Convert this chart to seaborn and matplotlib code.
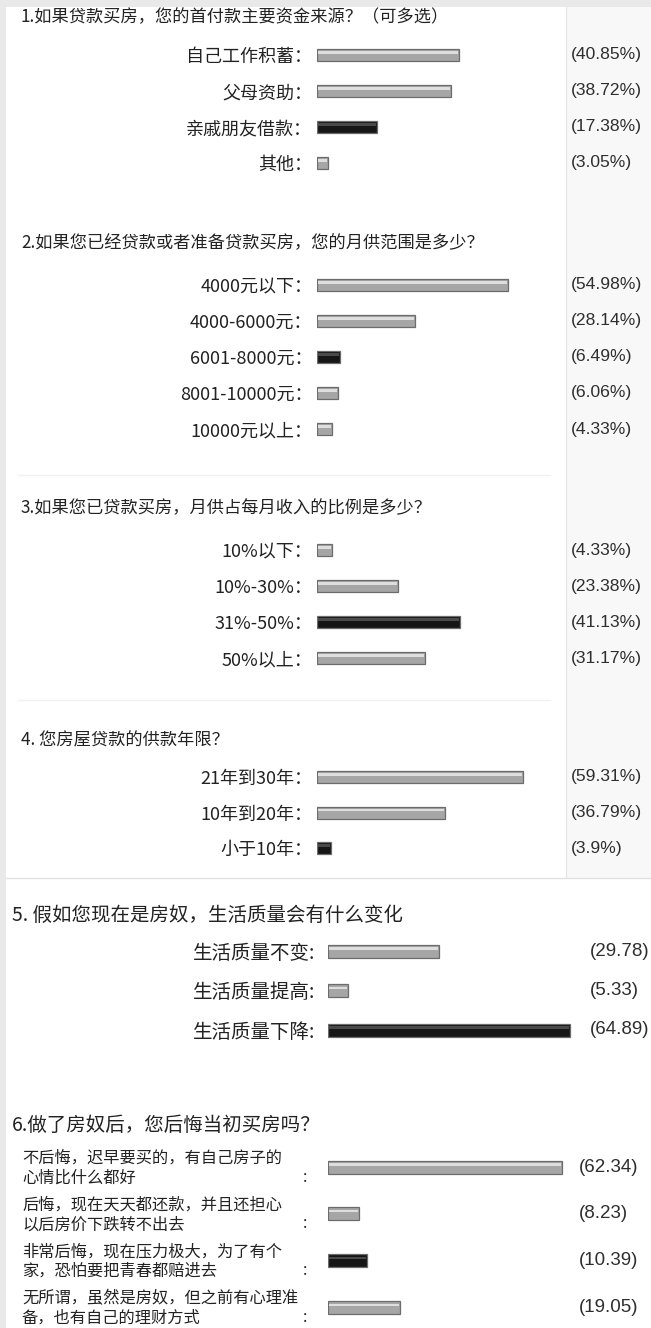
import numpy as np
import pandas as pd
import seaborn as sns
import matplotlib.pyplot as plt
import matplotlib.transforms as mtrans
from matplotlib.patches import Rectangle
from matplotlib.lines import Line2D

sns.set_theme(style="white")
plt.rcParams['font.family'] = ['Noto Sans CJK SC', 'DejaVu Sans']

# ---- data ----
q1_title = '1.如果贷款买房，您的首付款主要资金来源？（可多选）'
q1_labels = ['自己工作积蓄：', '父母资助：', '亲戚朋友借款：', '其他：']
q1_values = [40.85, 38.72, 17.38, 3.05]

q2_title = '2.如果您已经贷款或者准备贷款买房，您的月供范围是多少？'
q2_labels = ['4000元以下：', '4000-6000元：', '6001-8000元：', '8001-10000元：', '10000元以上：']
q2_values = [54.98, 28.14, 6.49, 6.06, 4.33]

q3_title = '3.如果您已贷款买房，月供占每月收入的比例是多少？'
q3_labels = ['10%以下：', '10%-30%：', '31%-50%：', '50%以上：']
q3_values = [4.33, 23.38, 41.13, 31.17]

q4_title = '4. 您房屋贷款的供款年限？'
q4_labels = ['21年到30年：', '10年到20年：', '小于10年：']
q4_values = [59.31, 36.79, 3.9]

q5_title = '5. 假如您现在是房奴，生活质量会有什么变化'
q5_labels = ['生活质量不变:', '生活质量提高:', '生活质量下降:']
q5_values = [29.78, 5.33, 64.89]

q6_title = '6.做了房奴后，您后悔当初买房吗？'
q6_labels = ['不后悔，迟早要买的，有自己房子的\n心情比什么都好',
             '后悔，现在天天都还款，并且还担心\n以后房价下跌转不出去',
             '非常后悔，现在压力极大，为了有个\n家，恐怕要把青春都赔进去',
             '无所谓，虽然是房奴，但之前有心理准\n备，也有自己的理财方式']
q6_values = [62.34, 8.23, 10.39, 19.05]

# index of the black bar in each question
dark_bar = [2, 2, 2, 2, 2, 2]

# ---- layout (pixels) ----
W, H = 651, 1328
fig = plt.figure(figsize=(W / 100, H / 100), dpi=100)
fig.patch.set_facecolor('#e9e9e9')

# paper panels
fig.patches.append(Rectangle((6 / W, 0), 1, 1 - 7 / H, transform=fig.transFigure,
                             facecolor='white', edgecolor='none', zorder=-3))
fig.patches.append(Rectangle((566 / W, 1 - 878 / H), 1, (878 - 7) / H, transform=fig.transFigure,
                             facecolor='#f8f8f8', edgecolor='none', zorder=-2))
fig.lines.append(Line2D([566 / W, 566 / W], [1 - 878 / H, 1 - 7 / H], transform=fig.transFigure,
                        color='#e4e4e4', lw=0.8, zorder=-1))
fig.lines.append(Line2D([6 / W, 1], [1 - 878 / H, 1 - 878 / H], transform=fig.transFigure,
                        color='#e2e2e2', lw=1.0, zorder=-1))
for yy in [475, 700]:
    fig.lines.append(Line2D([18 / W, 550 / W], [1 - yy / H, 1 - yy / H], transform=fig.transFigure,
                            color='#f0f0f0', lw=1.0, zorder=-1))


def px_axes(x0, ytop, w, h):
    return fig.add_axes([x0 / W, 1 - (ytop + h) / H, w / W, h / H])


def draw_q(title, labels, values, dark, cfg, pct_suffix, side_labels=True):
    n = len(values)
    step = cfg['step']
    fig.text(cfg['title_x'] / W, 1 - cfg['title_y'] / H, title, fontsize=cfg['title_fs'],
             va='center', ha='left', color='#222222')
    ax = px_axes(cfg['bar_x'], cfg['row0'] - step / 2, cfg['scale'] * cfg['xmax'], step * n)
    df = pd.DataFrame({'label': labels, 'value': values})
    pal = ['#161616' if i == dark else '#a6a6a6' for i in range(n)]
    sns.barplot(data=df, x='value', y='label', hue='label', palette=pal, legend=False,
                saturation=1, width=cfg['bar_h'] / step, edgecolor='#6c6c6c',
                linewidth=0.9, ax=ax)
    # light stripe for the glossy look
    stripe = ['#4a4a4a' if i == dark else '#dedede' for i in range(n)]
    vals = np.array(values)
    ax.barh(np.arange(n) - 2.5 / step, vals - 0.5, left=0.25, height=2.2 / step,
            color=stripe, edgecolor='none', zorder=3)
    ax.set_xlim(0, cfg['xmax'])
    ax.set_ylim(n - 0.5, -0.5)
    ax.set_facecolor('none')
    sns.despine(ax=ax, left=True, bottom=True)
    ax.set_xticks([])
    ax.set_xlabel('')
    ax.set_ylabel('')
    if side_labels:
        ax.tick_params(axis='y', length=0, pad=cfg['pad'], labelsize=cfg['label_fs'],
                       labelcolor='#222222')
    else:
        ax.set_yticks([])
    tr = mtrans.blended_transform_factory(fig.transFigure, ax.transData)
    for i, v in enumerate(values):
        ax.text(cfg['pct_x'] / W, i, '(' + str(v) + pct_suffix + ')', transform=tr,
                va='center', ha='left', fontsize=cfg['pct_fs'], color='#2e2e2e',
                family=['Liberation Sans', 'DejaVu Sans'])
    return ax, tr


base = dict(title_x=21, title_fs=12.4, bar_x=317, scale=3.47, xmax=68, step=36, bar_h=12,
            pad=3.5, label_fs=13, pct_x=571, pct_fs=12.6)

draw_q(q1_title, q1_labels, q1_values, dark_bar[0], dict(base, title_y=17, row0=55), '%')
draw_q(q2_title, q2_labels, q2_values, dark_bar[1], dict(base, title_y=243, row0=285), '%')
draw_q(q3_title, q3_labels, q3_values, dark_bar[2], dict(base, title_y=508, row0=550), '%')
draw_q(q4_title, q4_labels, q4_values, dark_bar[3], dict(base, title_y=740, row0=777, step=35.5), '%')

draw_q(q5_title, q5_labels, q5_values, dark_bar[4],
       dict(title_x=12, title_y=915, title_fs=14, bar_x=328, scale=3.73, xmax=66, step=39.5,
            row0=951, bar_h=13, pad=9, label_fs=14, pct_x=590, pct_fs=13.5), '')

ax6, tr6 = draw_q(q6_title, q6_labels, q6_values, dark_bar[5],
                  dict(title_x=12, title_y=1125, title_fs=14, bar_x=328, scale=3.76, xmax=64,
                       step=46.8, row0=1167, bar_h=13, pad=5, label_fs=11.7, pct_x=579,
                       pct_fs=13.5), '', side_labels=False)
lab_tr = mtrans.offset_copy(tr6, fig=fig, y=-1, units='dots')
col_tr = mtrans.offset_copy(tr6, fig=fig, y=-10, units='dots')
for i, lab in enumerate(q6_labels):
    ax6.text(22 / W, i, lab, transform=lab_tr, va='center', ha='left', fontsize=11.7,
             linespacing=1.22, color='#222222')
    ax6.text(305 / W, i, ':', transform=col_tr, va='center', ha='center', fontsize=11.7,
             color='#222222')

fig.savefig('out.png', dpi=100, facecolor=fig.get_facecolor())
